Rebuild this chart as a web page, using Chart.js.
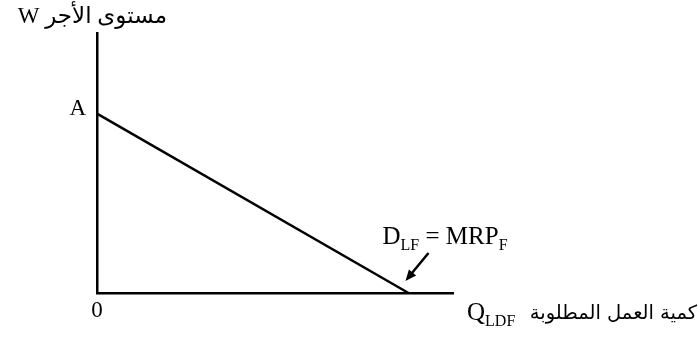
<!DOCTYPE html>
<html>
<head>
<meta charset="utf-8">
<script src="https://cdn.jsdelivr.net/npm/chart.js@4"></script>
<style>
  html, body { margin: 0; padding: 0; background: #fff; }
  #wrap { width: 698px; height: 338px; }
</style>
</head>
<body>
<div id="wrap"><canvas id="demandChart"></canvas></div>
<script>
// labour demand curve: from A on the wage axis down to the quantity axis
const demandQuantity = [0, 8.75];
const demandWage = [6.9, 0];
const axisMax = { x: 10, y: 10 };

const yTitle = 'مستوى الأجر W';
const xTitleArabic = 'كمية العمل المطلوبة';
const pointLabel = 'A';
const originLabel = '0';

const latin = '25px "Liberation Serif", "DejaVu Serif", serif';
const latinSub = '16px "Liberation Serif", "DejaVu Serif", serif';
const small = '23px "Liberation Serif", "DejaVu Serif", serif';
const arabic = '19.5px "DejaVu Sans", sans-serif';

function subText(ctx, parts, x, y) {
    // parts: [text, isSub]
    ctx.textAlign = 'left';
    ctx.textBaseline = 'alphabetic';
    parts.forEach(function(p) {
        ctx.font = p[1] ? latinSub : latin;
        ctx.fillText(p[0], x, p[1] ? y + 6 : y);
        x += ctx.measureText(p[0]).width;
    });
}

const labelsPlugin = {
    id: 'labels',
    afterDraw(chart) {
        const ctx = chart.ctx;
        const xs = chart.scales.x, ys = chart.scales.y;
        const ox = xs.getPixelForValue(0), oy = ys.getPixelForValue(0);
        const ax = xs.getPixelForValue(demandQuantity[0]);
        const ay = ys.getPixelForValue(demandWage[0]);
        const ex = xs.getPixelForValue(demandQuantity[1]);
        const ey = ys.getPixelForValue(demandWage[1]);
        ctx.save();
        ctx.fillStyle = '#000';

        // wage axis title
        ctx.font = '23px "Liberation Serif", "DejaVu Sans", serif';
        ctx.direction = 'rtl';
        ctx.textAlign = 'right';
        ctx.textBaseline = 'alphabetic';
        ctx.fillText(yTitle, ox + 70, ys.top - 10);
        ctx.direction = 'ltr';

        // A and 0
        ctx.font = small;
        ctx.textAlign = 'right';
        ctx.fillText(pointLabel, ax - 11, ay + 1);
        ctx.textAlign = 'center';
        ctx.fillText(originLabel, ox, oy + 24);

        // D_LF = MRP_F
        subText(ctx, [['D', false], ['LF', true], [' = MRP', false], ['F', true]], ex - 26, ey - 49);

        // arrow to the curve end
        const x1 = ex + 20, y1 = ey - 40, x2 = ex - 3, y2 = ey - 12;
        ctx.strokeStyle = '#000';
        ctx.lineWidth = 2.5;
        ctx.beginPath();
        ctx.moveTo(x1, y1);
        ctx.lineTo(x2 + 4, y2 - 5);
        ctx.stroke();
        const ang = Math.atan2(y2 - y1, x2 - x1);
        ctx.beginPath();
        ctx.moveTo(x2, y2);
        ctx.lineTo(x2 - 12 * Math.cos(ang - 0.4), y2 - 12 * Math.sin(ang - 0.4));
        ctx.lineTo(x2 - 12 * Math.cos(ang + 0.4), y2 - 12 * Math.sin(ang + 0.4));
        ctx.closePath();
        ctx.fill();

        // quantity axis title
        subText(ctx, [['Q', false], ['LDF', true]], xs.right + 14, oy + 27);
        ctx.font = arabic;
        ctx.direction = 'rtl';
        ctx.textAlign = 'right';
        ctx.fillText(xTitleArabic, 697, oy + 26);
        ctx.restore();
    }
};

const ctx = document.getElementById('demandChart').getContext('2d');
new Chart(ctx, {
    type: 'scatter',
    data: {
        datasets: [{
            data: demandQuantity.map(function(q, i) { return { x: q, y: demandWage[i] }; }),
            showLine: true,
            borderColor: '#000',
            borderWidth: 2.5,
            pointRadius: 0,
            clip: false
        }]
    },
    options: {
        responsive: true,
        maintainAspectRatio: false,
        animation: false,
        layout: { padding: { left: 97, top: 33, right: 245, bottom: 45 } },
        plugins: { legend: { display: false }, tooltip: { enabled: false } },
        scales: {
            x: {
                type: 'linear', min: 0, max: axisMax.x,
                grid: { display: false },
                ticks: { display: false },
                border: { display: true, color: '#000', width: 2.5 },
                afterFit: function(s) { s.height = 0; }
            },
            y: {
                type: 'linear', min: 0, max: axisMax.y,
                grid: { display: false },
                ticks: { display: false },
                border: { display: true, color: '#000', width: 2.5 },
                afterFit: function(s) { s.width = 0; }
            }
        }
    },
    plugins: [labelsPlugin]
});
</script>
</body>
</html>
